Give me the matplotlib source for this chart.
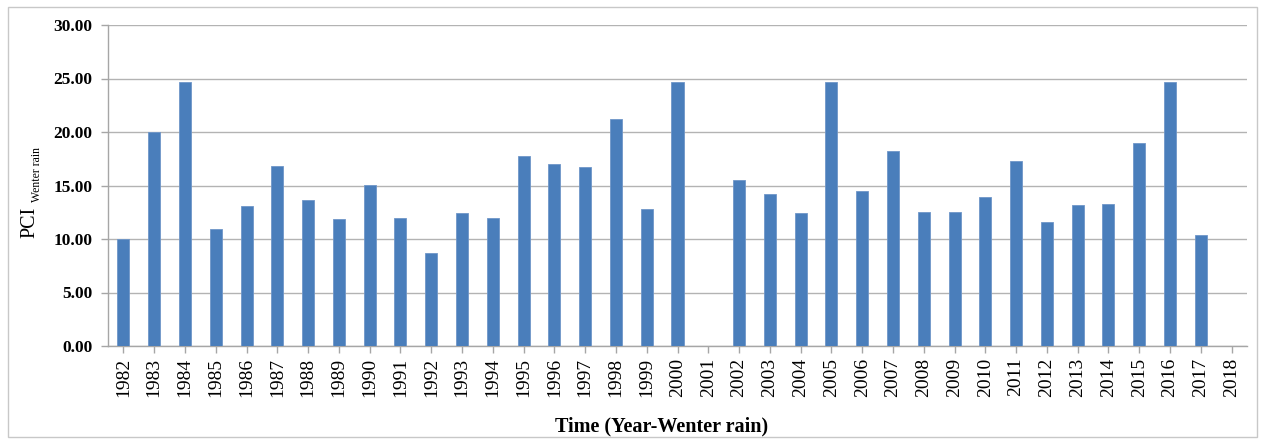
import matplotlib
matplotlib.use("Agg")
import matplotlib.pyplot as plt
from matplotlib.patches import Rectangle

years = [str(y) for y in range(1982, 2019)]
pci = [10.0, 20.0, 24.7, 10.9, 13.1, 16.85, 13.6, 11.85, 15.05, 11.95,
       8.65, 12.4, 12.0, 17.8, 17.05, 16.75, 21.2, 12.8, 24.7, 0.0,
       15.55, 14.2, 12.4, 24.7, 14.45, 18.25, 12.55, 12.55, 13.95, 17.3,
       11.6, 13.15, 13.25, 18.95, 24.7, 10.4, 0.0]
yticks = [0, 5, 10, 15, 20, 25, 30]

plt.rcParams['font.family'] = ['Liberation Serif', 'DejaVu Serif']

W, H = 1264, 443
fig = plt.figure(figsize=(W / 100, H / 100), dpi=100)
ax = fig.add_axes([108/W, 1-346/H, (1247-108)/W, (346-25)/H])

x = range(len(years))
ax.bar(x, pci, width=0.39, color='#4a7ebb', edgecolor='#6f96c8', linewidth=0.6, zorder=3)

ax.set_xlim(-0.5, len(years) - 0.5)
ax.set_ylim(0, 30)
ax.set_yticks(yticks)
ax.set_yticklabels([f"{v:.2f}" for v in yticks], fontsize=12.5, fontweight='bold')
ax.set_xticks(list(x))
ax.set_xticklabels(years, rotation=90, fontsize=14)
ax.grid(axis='y', color='#b3b3b3', linewidth=1.0, zorder=0)
ax.set_axisbelow(True)
for s in ['top', 'right']:
    ax.spines[s].set_visible(False)
for s in ['left', 'bottom']:
    ax.spines[s].set_color('#a6a6a6')
    ax.spines[s].set_linewidth(1.0)
ax.tick_params(axis='both', colors='#a6a6a6', labelcolor='black', length=5, width=1)
ax.tick_params(axis='y', pad=6)

# y label: "PCI" with subscript "Wenter rain"
fig.text(30/W, 1-222.5/H, 'PCI', rotation=90, fontsize=14.5,
         ha='center', va='center')
fig.text(37/W, 1-175/H, 'Wenter rain', rotation=90, fontsize=8.5,
         ha='center', va='center')

fig.text(662/W, 1-426/H, 'Time (Year-Wenter rain)', fontsize=14.5,
         fontweight='bold', ha='center', va='center')

fig.patches.append(Rectangle((8/W, 1-437/H), (1257-8)/W, (437-7)/H,
                             transform=fig.transFigure, fill=False,
                             edgecolor='#c8c8c8', linewidth=1.0))

fig.savefig('out.png', dpi=100)
